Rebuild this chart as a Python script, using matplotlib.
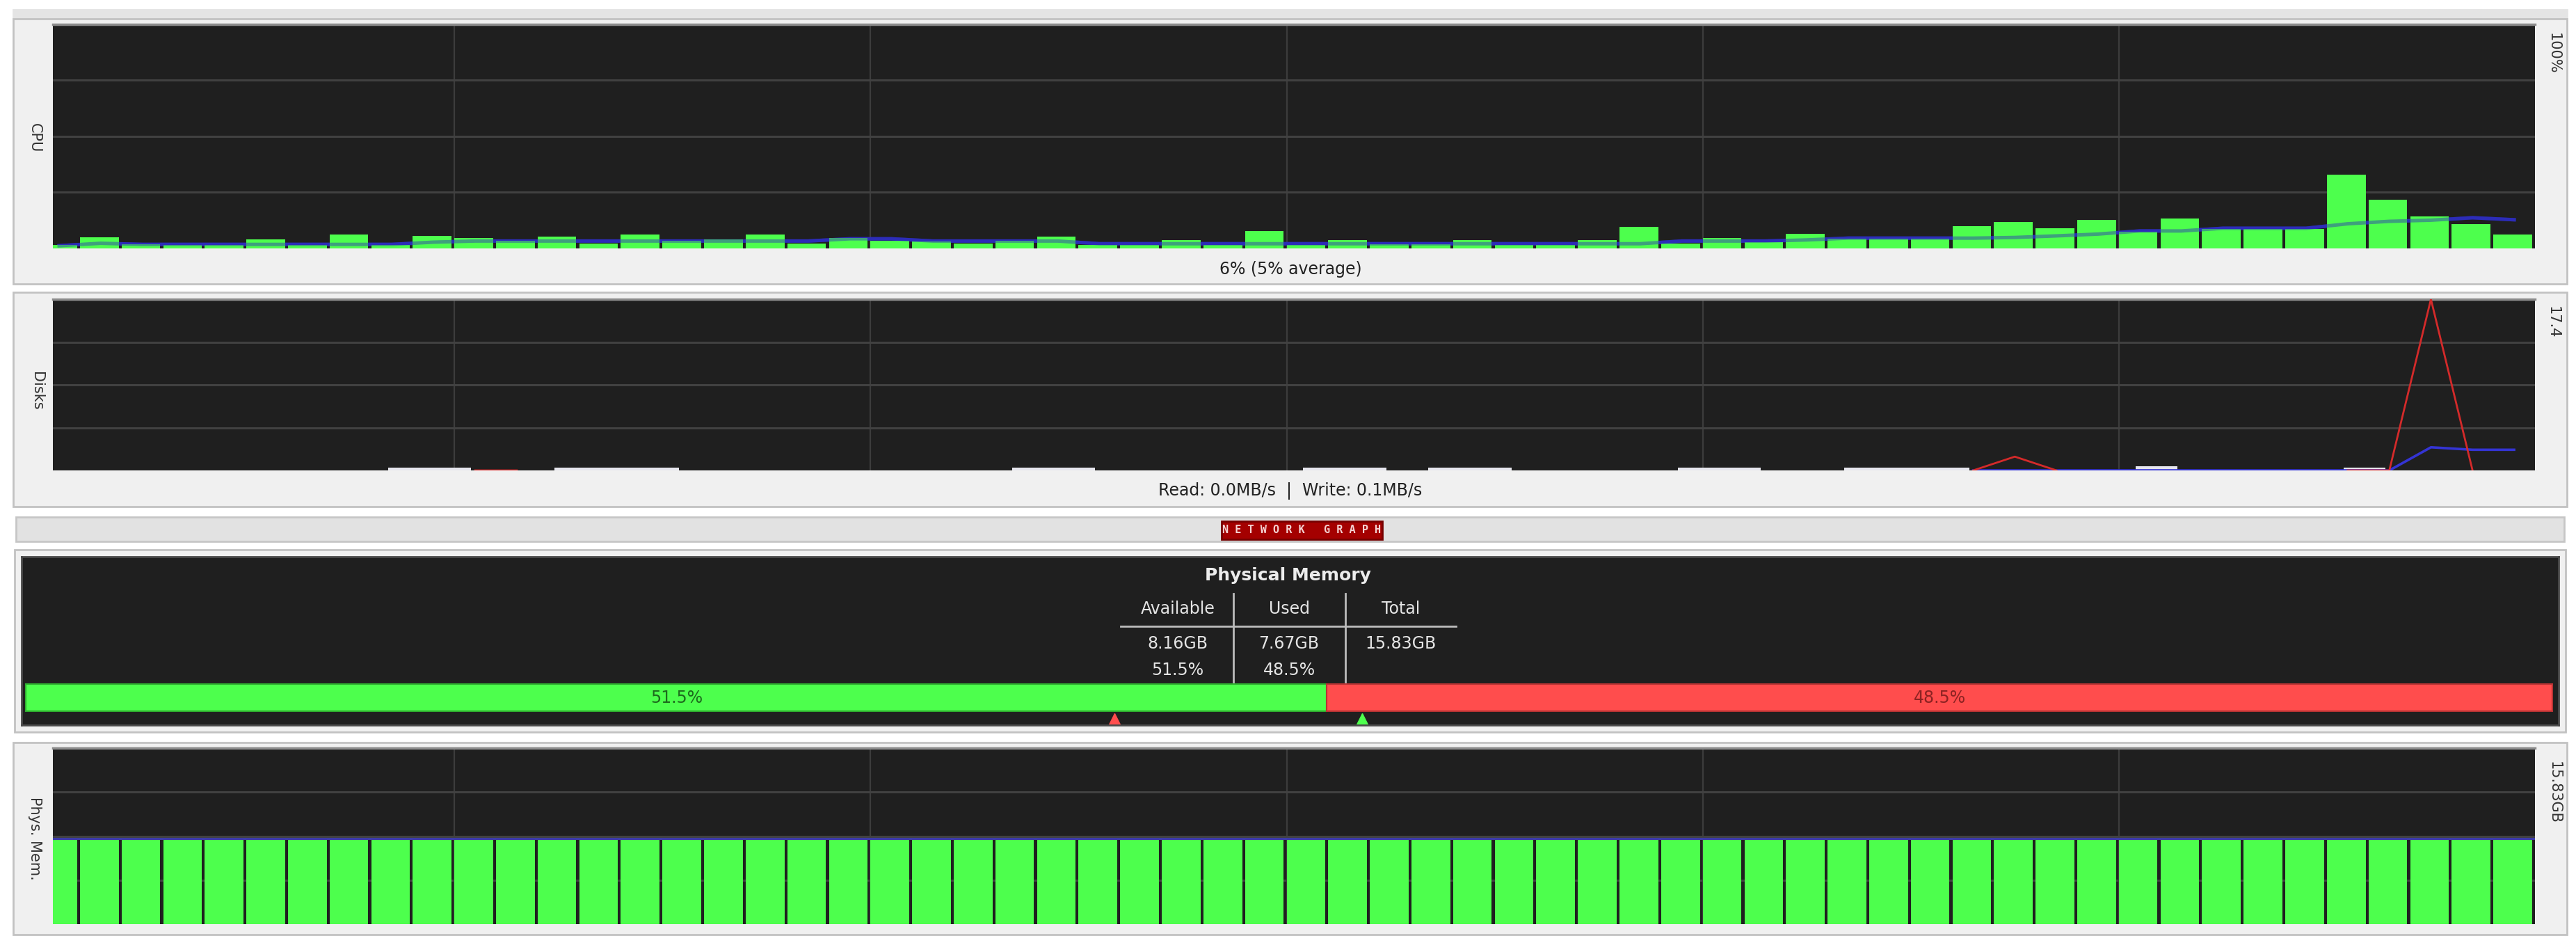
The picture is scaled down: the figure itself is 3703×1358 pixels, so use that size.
import numpy as np
import matplotlib
matplotlib.use("Agg")
import matplotlib.pyplot as plt
from matplotlib.patches import Rectangle
from matplotlib.lines import Line2D

W, H = 3703, 1358

# CPU history (%), one sample per slot, oldest first
cpu_usage = [1.5, 4.9, 1.8, 1.5, 1.5, 4.0, 1.5, 6.2, 1.5, 5.6,
             4.8, 3.3, 5.4, 2.3, 6.2, 3.3, 4.1, 6.2, 2.3, 4.6,
             3.3, 3.1, 2.3, 3.3, 5.4, 1.5, 1.5, 3.8, 1.5, 7.8,
             1.5, 3.8, 1.8, 1.8, 3.8, 1.5, 1.5, 3.8, 9.5, 2.3,
             4.8, 2.8, 6.4, 4.3, 4.3, 4.3, 9.8, 11.8, 9.0, 12.6,
             7.5, 13.4, 8.7, 8.7, 8.7, 33.0, 21.7, 14.2, 10.8, 6.2]
cpu_average = [1.2, 2.3, 1.8, 1.8, 1.8, 1.8, 1.8, 1.8, 1.8, 2.8,
               3.3, 3.3, 3.3, 3.3, 3.3, 3.3, 3.3, 3.3, 3.3, 4.3,
               4.3, 3.3, 3.3, 3.3, 3.3, 2.1, 2.1, 2.1, 2.1, 2.1,
               2.1, 2.1, 2.1, 2.1, 2.1, 2.1, 2.1, 2.1, 2.1, 3.3,
               3.3, 3.3, 3.8, 4.6, 4.6, 4.6, 4.6, 4.9, 5.6, 6.4,
               7.8, 7.8, 9.0, 9.0, 9.0, 11.0, 12.1, 12.6, 13.7, 12.8]
cpu_caption = "6% (5% average)"
cpu_max_label = "100%"
cpu_max = 100

# disk history (MB/s), None = nothing drawn for that sample
N = None
disk_read = [N, N, N, N, N, N, N, N, N, N,
             0, 0, N, N, N, N, N, N, N, N,
             N, N, N, N, N, N, N, N, N, N,
             N, N, N, N, N, N, N, N, N, N,
             N, N, N, N, N, N, 0, 1.4, 0, N,
             N, N, N, N, N, 0, 0, 17.4, 0, N]
disk_write = [N, N, N, N, N, N, N, N, N, N,
              N, N, N, N, N, N, N, N, N, N,
              N, N, N, N, N, N, N, N, N, N,
              N, N, N, N, N, N, N, N, N, N,
              N, N, N, N, N, N, 0, 0, 0, 0,
              0, 0, 0, 0, 0, 0, 0, 2.35, 2.1, 2.1]
disk_other = [0, 0, 0, 0, 0, 0, 0, 0, 0.25, 0.25,
              0, 0, 0.25, 0.25, 0.25, 0, 0, 0, 0, 0,
              0, 0, 0, 0.25, 0.25, 0, 0, 0, 0, 0,
              0.25, 0.25, 0, 0.25, 0.25, 0, 0, 0, 0, 0.25,
              0.25, 0, 0, 0.25, 0.25, 0.25, 0, 0, 0, 0,
              0.45, 0, 0, 0, 0, 0.3, 0, 0, 0, 0]
disk_caption = "Read: 0.0MB/s  |  Write: 0.1MB/s"
disk_max_label = "17.4"
disk_max = 17.4

# physical memory summary
mem_headers = ["Available", "Used", "Total"]
mem_gb = [8.16, 7.67, 15.83]
mem_pct = [51.5, 48.5]
mem_marks = [43.1, 52.9]

# physical memory history (GB)
phys_mem = [7.67, 7.67, 7.67, 7.67, 7.67, 7.67, 7.67, 7.67, 7.67, 7.67,
            7.67, 7.67, 7.67, 7.67, 7.67, 7.67, 7.67, 7.67, 7.67, 7.67,
            7.67, 7.67, 7.67, 7.67, 7.67, 7.67, 7.67, 7.67, 7.67, 7.67,
            7.67, 7.67, 7.67, 7.67, 7.67, 7.67, 7.67, 7.67, 7.67, 7.67,
            7.67, 7.67, 7.67, 7.67, 7.67, 7.67, 7.67, 7.67, 7.67, 7.67,
            7.67, 7.67, 7.67, 7.67, 7.67, 7.67, 7.67, 7.67, 7.67, 7.67]
phys_max_label = "15.83GB"
phys_max = 15.83

GREEN = "#4dff4d"
RED = "#ff4d4d"
BG = "#1f1f1f"
GRID = "#3c3c3c"
TXT = "#222222"

fig = plt.figure(figsize=(W / 100, H / 100), dpi=100)
fig.patch.set_facecolor("white")


def box(x0, y0, x1, y1):
    return [x0 / W, 1 - y1 / H, (x1 - x0) / W, (y1 - y0) / H]


def frame(x0, y0, x1, y1, fc="#f0f0f0", ec="#c2c2c2", lw=2, z=-10):
    fig.patches.append(Rectangle((x0 / W, 1 - y1 / H), (x1 - x0) / W, (y1 - y0) / H,
                                 transform=fig.transFigure, fc=fc, ec=ec, lw=lw, zorder=z))


def ftext(x, y, s, **kw):
    kw.setdefault("ha", "center")
    kw.setdefault("va", "center")
    fig.text(x / W, 1 - y / H, s, **kw)


def fline(xs, ys, **kw):
    fig.add_artist(Line2D([x / W for x in xs], [1 - y / H for y in ys],
                          transform=fig.transFigure, zorder=5, **kw))


def graph_axes(y0, y1, ymax):
    ax = fig.add_axes(box(76, y0, 3644, y1))
    ax.set_facecolor(BG)
    ax.set_xlim(0.35, 60.0)
    ax.set_ylim(0, ymax)
    for v in [10, 20, 30, 40, 50]:
        ax.axvline(v, color=GRID, lw=1.6, zorder=0.5)
    for f in [0.25, 0.5, 0.75]:
        ax.axhline(ymax * f, color="#414141", lw=2.2, zorder=0.5)
    ax.set_xticks([])
    ax.set_yticks([])
    for name, s in ax.spines.items():
        s.set_visible(name == "top")
    ax.spines["top"].set_color("#8c8c8c")
    ax.spines["top"].set_linewidth(2.5)
    return ax


side_kw = dict(rotation=270, fontsize=15, color="#333333")

# panel frames
frame(19, 14, 3690, 26, fc="#e4e4e4", ec="#e4e4e4")
frame(19, 27, 3690, 408)
frame(19, 420, 3690, 728)
frame(23, 743, 3686, 778, fc="#e2e2e2", ec="#c6c6c6")
frame(21, 790, 3688, 1052)
frame(19, 1067, 3690, 1343)

slots = np.arange(len(cpu_usage))

# CPU
ax = graph_axes(35, 357, cpu_max)
ax.bar(slots, cpu_usage, width=0.93, align="edge", color=GREEN, zorder=2)
ax.plot(slots + 0.5, cpu_average, color="#2c2cb8", lw=3.6, zorder=1.5)
ax.plot(slots + 0.5, cpu_average, color="#2c2cb8", lw=3.6, alpha=0.45, zorder=3)
ftext(50, 198, "CPU", **side_kw)
ftext(3671, 77, cpu_max_label, **side_kw)
ftext(1855, 387, cpu_caption, fontsize=17, color=TXT)

# Disks
ax = graph_axes(430, 676, disk_max)
read = np.array([np.nan if v is None else v for v in disk_read])
write = np.array([np.nan if v is None else v for v in disk_write])
other = np.array(disk_other)
shown = other > 0
ax.bar(slots[shown] + 0.4, other[shown], width=1.0, align="edge",
       color="#e6e6ee", zorder=1)
ax.plot(slots + 0.5, write, color="#3434d4", lw=2.6, zorder=2)
ax.plot(slots + 0.5, read, color="#d42a2a", lw=2.0, zorder=3)
ftext(53, 562, "Disks", **side_kw)
ftext(3670, 463, disk_max_label, **side_kw)
ftext(1855, 705, disk_caption, fontsize=17, color=TXT)

# network toggle
fig.patches.append(Rectangle((1756 / W, 1 - 775 / H), 231 / W, 26 / H,
                             transform=fig.transFigure, fc="#a40000", ec="#760000",
                             lw=2, zorder=1))
ftext(1871, 762, " ".join("NETWORK GRAPH"), family="DejaVu Sans Mono",
      fontsize=11, fontweight="bold", color="#f4d2d2", zorder=6)

# physical memory summary
ax = fig.add_axes(box(31, 800, 3678, 1042))
ax.set_facecolor(BG)
ax.set_xlim(-0.165, 100.25)
ax.set_ylim(0, 242)
ax.set_xticks([])
ax.set_yticks([])
for s in ax.spines.values():
    s.set_color("#4a4a4a")
    s.set_linewidth(2)
ax.barh(39.5, mem_pct[0], height=39, left=0, color=GREEN, edgecolor="#2fae2f", lw=1.5)
ax.barh(39.5, mem_pct[1], height=39, left=mem_pct[0], color=RED, edgecolor="#b83434", lw=1.5)
ax.text(mem_pct[0] / 2, 39.5, f"{mem_pct[0]:.1f}%", ha="center", va="center",
        fontsize=17, color="#1d6a1d")
ax.text(mem_pct[0] + mem_pct[1] / 2, 39.5, f"{mem_pct[1]:.1f}%", ha="center", va="center",
        fontsize=17, color="#8c2222")
ax.plot([mem_marks[0]], [9], marker="^", ms=11, color=RED, ls="none")
ax.plot([mem_marks[1]], [9], marker="^", ms=11, color=GREEN, ls="none")

col_x = [1693, 1853, 2014]
ftext(1851, 827, "Physical Memory", fontsize=18, fontweight="bold", color="#ececec")
for x, head in zip(col_x, mem_headers):
    ftext(x, 875, head, fontsize=17, color="#e4e4e4")
for x, gb in zip(col_x, mem_gb):
    ftext(x, 925, f"{gb:.2f}GB", fontsize=17, color="#e4e4e4")
for x, p in zip(col_x, mem_pct):
    ftext(x, 963, f"{p:.1f}%", fontsize=17, color="#e4e4e4")
fline([1611, 2093], [900, 900], color="#bdbdbd", lw=2)
fline([1773, 1773], [853, 980], color="#bdbdbd", lw=2)
fline([1934, 1934], [853, 980], color="#bdbdbd", lw=2)

# physical memory history
ax = graph_axes(1075, 1328, phys_max)
ax.bar(slots, phys_mem, width=0.93, align="edge", color=GREEN, zorder=2)
ax.plot(np.r_[0.35, slots + 0.5, 60.0], np.r_[phys_mem[0], phys_mem, phys_mem[-1]],
        color="#3b3ba8", lw=2.2, zorder=3)
ftext(50, 1205, "Phys. Mem.", **side_kw)
ftext(3672, 1139, phys_max_label, **side_kw)

fig.savefig("out.png", dpi=100, facecolor=fig.get_facecolor())
